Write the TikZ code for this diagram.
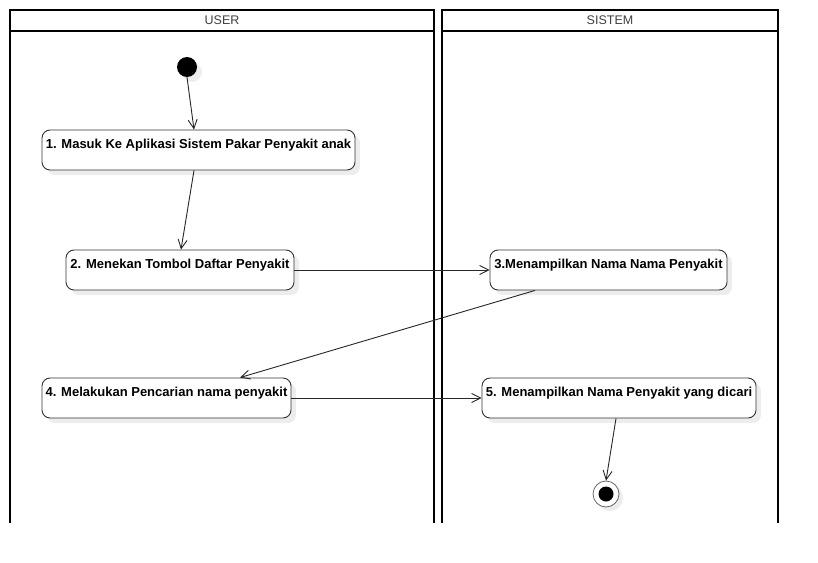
\documentclass[tikz,border=0pt]{standalone}
\usepackage{fontspec}
\setmainfont{Liberation Sans}
\usetikzlibrary{arrows.meta,shadows,calc}

\tikzset{
  lane/.style={line width=2pt, line cap=rect},
  lanetitle/.style={text=black!75, font=\fontsize{12.5}{14}\selectfont, inner sep=0pt},
  actbox/.style={draw=black!80, line width=0.9pt, fill=white, rounded corners=8pt,
    minimum height=40pt, inner xsep=0pt, inner ysep=2pt,
    text height=16pt, text depth=20pt,
    font=\bfseries\fontsize{13}{15}\selectfont,
    drop shadow={shadow xshift=5pt, shadow yshift=-5pt, fill=black!7, opacity=1}},
  startdot/.style={circle, fill=black, minimum size=20pt, inner sep=0pt,
    drop shadow={shadow xshift=5pt, shadow yshift=-5pt, fill=black!7, opacity=1}},
  enddot/.style={circle, draw=black!60, line width=0.8pt, fill=white, minimum size=26pt, inner sep=0pt,
    drop shadow={shadow xshift=4pt, shadow yshift=-4pt, fill=black!7, opacity=1}},
  flow/.style={line width=0.9pt, draw=black!85, -{Straight Barb[length=9pt,width=9pt,line width=0.9pt]}}
}

\begin{document}
\begin{tikzpicture}[x=1pt,y=-1pt]
  \useasboundingbox (0,0) rectangle (818,562);

  % swimlanes
  \draw[lane] (10,522) -- (10,10) -- (434,10) -- (434,522);
  \draw[lane] (10,31) -- (434,31);
  \draw[lane] (442,522) -- (442,10) -- (778,10) -- (778,522);
  \draw[lane] (442,31) -- (778,31);
  \node[lanetitle] (userlane) at (222,20.5) {USER};
  \node[lanetitle] (sistemlane) at (610,20.5) {SISTEM};

  % activities
  \node[startdot] (start) at (187,67) {};
  \node[actbox, minimum width=313pt] (a1) at (198.5,150) {1. Masuk Ke Aplikasi Sistem Pakar Penyakit anak};
  \node[actbox, minimum width=228pt] (a2) at (180,270) {2. Menekan Tombol Daftar Penyakit};
  \node[actbox, minimum width=237pt] (a3) at (608.5,270) {3.Menampilkan Nama Nama Penyakit};
  \node[actbox, minimum width=249pt] (a4) at (166.5,398) {4. Melakukan Pencarian nama penyakit};
  \node[actbox, minimum width=274pt] (a5) at (619,398) {5. Menampilkan Nama Penyakit yang dicari};
  \node[enddot] (finish) at (606,494) {};
  \fill (finish) circle (7.5pt);

  % transitions
  \draw[flow] (start.south) -- ($(a1.north)+(-4.5,0)$);
  \draw[flow] ($(a1.south)+(-4.5,0)$) -- ($(a2.north)+(1,0)$);
  \draw[flow] (a2.east) -- (a3.west);
  \draw[flow] ($(a3.south)+(-73.5,0)$) -- ($(a4.north)+(73.5,0)$);
  \draw[flow] (a4.east) -- (a5.west);
  \draw[flow] ($(a5.south)+(-3,0)$) -- (finish.north);
\end{tikzpicture}
\end{document}
